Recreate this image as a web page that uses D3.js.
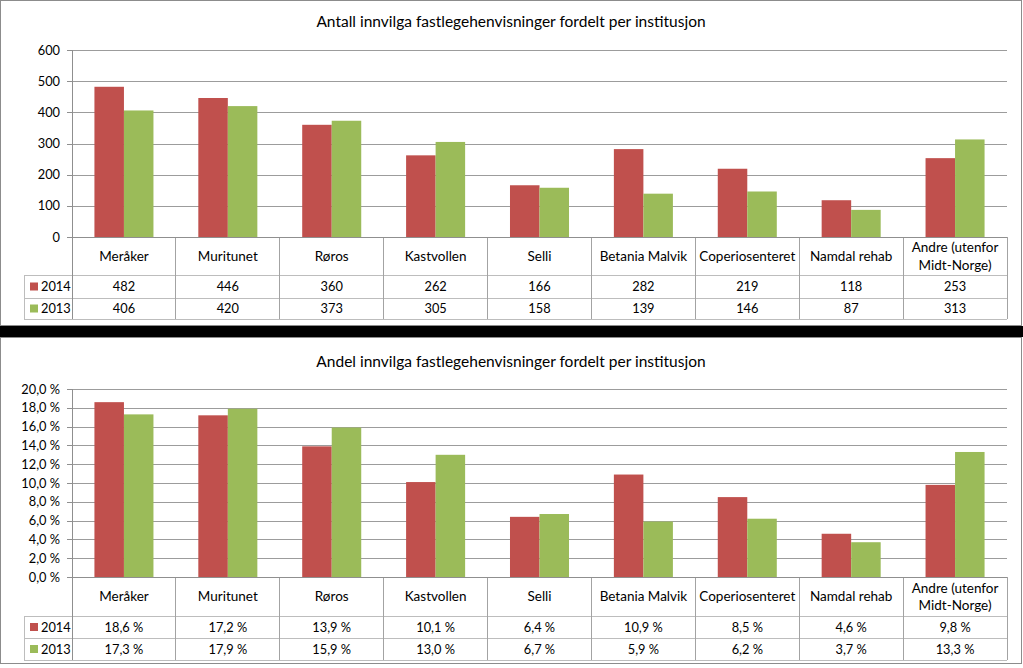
<!DOCTYPE html>
<html><head><meta charset="utf-8">
<script src="https://cdn.jsdelivr.net/npm/d3@7/dist/d3.min.js"></script>
<style>
html,body{margin:0;padding:0;background:#fff;}
svg{display:block;}
text{font-family:Lato,"Open Sans",sans-serif;fill:#000;}
</style></head>
<body>
<svg id="c" width="1023" height="668"></svg>
<script>
const categories = ["Meråker","Muritunet","Røros","Kastvollen","Selli","Betania Malvik","Coperiosenteret","Namdal rehab","Andre (utenfor Midt-Norge)"];
const seriesNames = ["2014","2013"];
const seriesColors = ["#C0504D","#9BBB59"];
const count2014 = [482,446,360,262,166,282,219,118,253];
const count2013 = [406,420,373,305,158,139,146,87,313];
const share2014 = [18.6,17.2,13.9,10.1,6.4,10.9,8.5,4.6,9.8];
const share2013 = [17.3,17.9,15.9,13.0,6.7,5.9,6.2,3.7,13.3];
const countTicks = [0,100,200,300,400,500,600];
const shareTicks = [0,2,4,6,8,10,12,14,16,18,20];
const titleTop = "Antall innvilga fastlegehenvisninger fordelt per institusjon";
const titleBottom = "Andel innvilga fastlegehenvisninger fordelt per institusjon";

const svg = d3.select("#c");
// panels
svg.append("rect").attr("x",0.5).attr("y",0.5).attr("width",1021).attr("height",325).attr("fill","#fff").attr("stroke","#8c8c8c");
svg.append("rect").attr("x",0).attr("y",326).attr("width",1023).attr("height",11).attr("fill","#000");
svg.append("rect").attr("x",0.5).attr("y",337.5).attr("width",1021).attr("height",326).attr("fill","#fff").attr("stroke","#8c8c8c");

const fmtCount = d => String(d);
const fmtPct = d => d3.format(".1f")(d).replace(".",",") + " %";

function drawChart(cfg){
  const g = svg.append("g");
  const left = 72, right = 1007, legLeft = 24;
  g.append("text").attr("x",511).attr("y",cfg.titleY).attr("text-anchor","middle")
    .attr("font-size",15.5).text(cfg.title);
  const y = d3.scaleLinear().domain([0,d3.max(cfg.ticks)]).range([cfg.plotBottom,cfg.plotTop]);
  const x = d3.scaleBand().domain(categories).range([left,right]).paddingInner(0).paddingOuter(0);
  const xs = d3.scaleBand().domain(seriesNames).range([0,x.bandwidth()]).paddingInner(0).paddingOuter(0.76);
  // gridlines
  const ax = d3.axisLeft(y).tickValues(cfg.ticks).tickSize(-(right-left)).tickFormat(cfg.tickFmt).tickPadding(12);
  const ag = g.append("g").attr("transform",`translate(${left},0)`).call(ax);
  ag.select(".domain").remove();
  ag.selectAll(".tick line").attr("stroke","#9c9c9c").attr("shape-rendering","crispEdges");
  ag.selectAll(".tick text").attr("font-size",12.8).attr("font-family","Lato,sans-serif").attr("fill","#000");
  ag.selectAll(".tick").append("line").attr("x1",-5).attr("x2",0).attr("stroke","#8f8f8f").attr("shape-rendering","crispEdges");
  // bars
  const series = [cfg.s1, cfg.s2];
  seriesNames.forEach((s,si)=>{
    g.append("g").selectAll("rect").data(categories).join("rect")
      .attr("x",(c)=>x(c)+xs(s))
      .attr("width",xs.bandwidth())
      .attr("y",(c,i)=>y(series[si][i]))
      .attr("height",(c,i)=>y(0)-y(series[si][i]))
      .attr("fill",seriesColors[si]);
  });
  // table
  const bc = "#bdbdbd";
  const [r0,r1,r2,r3] = cfg.rows;
  const tl = g.append("g").attr("stroke",bc).attr("shape-rendering","crispEdges");
  [r1,r2].forEach(r=>tl.append("line").attr("x1",legLeft).attr("x2",right).attr("y1",r).attr("y2",r));
  tl.append("line").attr("x1",legLeft).attr("x2",right).attr("y1",r3).attr("y2",r3);
  tl.append("line").attr("x1",legLeft).attr("x2",legLeft).attr("y1",r1).attr("y2",r3);
  categories.forEach(c=>{
    tl.append("line").attr("x1",x(c)+x.bandwidth()).attr("x2",x(c)+x.bandwidth()).attr("y1",r0).attr("y2",r3)
      .attr("stroke", "#a3a3a3");
  });
  tl.append("line").attr("x1",left).attr("x2",right).attr("y1",r0).attr("y2",r0).attr("stroke","#8f8f8f");
  tl.append("line").attr("x1",left).attr("x2",left).attr("y1",cfg.plotTop).attr("y2",r3).attr("stroke","#8f8f8f");
  // category labels
  categories.forEach(c=>{
    const cx = x(c)+x.bandwidth()/2;
    const lines = c==="Andre (utenfor Midt-Norge)" ? ["Andre (utenfor","Midt-Norge)"] : [c];
    const mid = (r0+r1)/2;
    lines.forEach((ln,li)=>{
      g.append("text").attr("x",cx).attr("y",mid + (li-(lines.length-1)/2)*17.5)
        .attr("dy","0.36em").attr("text-anchor","middle").attr("font-size",13.5).text(ln);
    });
  });
  // value rows
  [[r1,r2],[r2,r3]].forEach((rr,si)=>{
    const mid = (rr[0]+rr[1])/2;
    g.append("rect").attr("x",30).attr("y",mid-4).attr("width",8).attr("height",8).attr("fill",seriesColors[si]);
    g.append("text").attr("x",41).attr("y",mid).attr("dy","0.36em").attr("font-size",12.8).text(seriesNames[si]);
    categories.forEach((c,i)=>{
      g.append("text").attr("x",x(c)+x.bandwidth()/2).attr("y",mid).attr("dy","0.36em")
        .attr("text-anchor","middle").attr("font-size",12.8).text(cfg.valFmt(series[si][i]));
    });
  });
}

drawChart({title:titleTop,titleY:27,plotTop:50,plotBottom:237,rows:[237,275,298,319],
  ticks:countTicks,tickFmt:fmtCount,valFmt:fmtCount,s1:count2014,s2:count2013});
drawChart({title:titleBottom,titleY:367,plotTop:389,plotBottom:577,rows:[577,616,638,660],
  ticks:shareTicks,tickFmt:fmtPct,valFmt:fmtPct,s1:share2014,s2:share2013});
</script>
</body></html>
